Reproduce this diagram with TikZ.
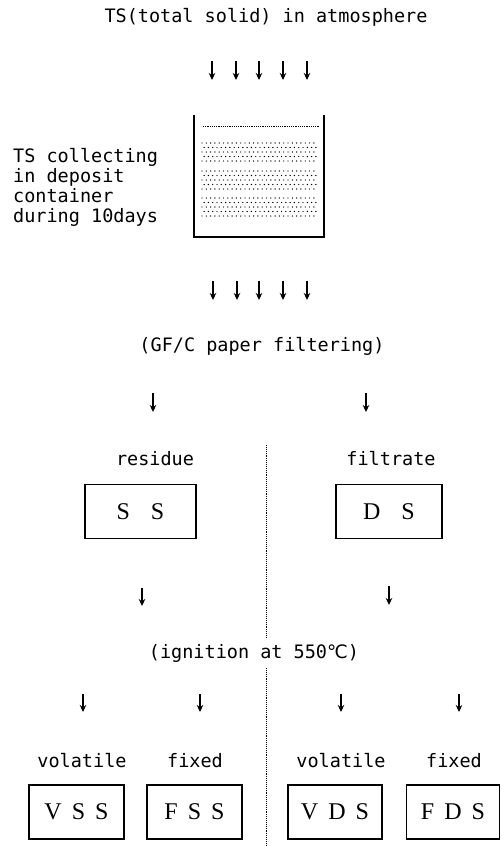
\documentclass[tikz,border=0pt]{standalone}
\usepackage{fontspec}
\newfontfamily\monof{DejaVu Sans Mono}
\newfontfamily\symf{DejaVu Sans}
\newfontfamily\boxf{Liberation Serif}
\usetikzlibrary{arrows.meta}
\begin{document}
\begin{tikzpicture}[x=1pt,y=-1pt,
  lbl/.style={font=\monof\fontsize{18.5}{20}\selectfont, inner sep=0pt},
  arr/.style={line width=1.4pt,-{Stealth[length=7pt,width=6.5pt]}},
  resbox/.style={draw, line width=1.1pt, minimum height=54pt, inner sep=0pt,
    font=\boxf\fontsize{24}{26}\selectfont},
  divider/.style={densely dotted, line width=0.9pt},
  wall/.style={line width=2pt},
]
\useasboundingbox (0,0) rectangle (501,846);

% title
\node[lbl, anchor=base] (title) at (266,22) {TS(total solid) in atmosphere};

% first row of arrows
\foreach \i/\x in {1/212,2/236,3/259,4/283,5/307}{
  \coordinate (ta\i) at (\x,61);
  \coordinate (tb\i) at (\x,80);
  \draw[arr] (ta\i) -- (tb\i);
}

% container
\coordinate (c1) at (194,115);
\coordinate (c2) at (194,237);
\coordinate (c3) at (324,237);
\coordinate (c4) at (324,115);
\draw[wall] (c1) -- (c2) -- (c3) -- (c4);
\coordinate (s1) at (203,126);
\coordinate (s2) at (319,126);
\draw[line width=0.6pt, dash pattern=on 1.2pt off 1pt] (s1) -- (s2);
\foreach \top in {143,171,198}{
  \foreach \r in {0,1,2,3,4}{
    \foreach \c in {0,...,26}{
      \pgfmathsetmacro{\xx}{202+\c*4.3+mod(\r,2)*2.1}
      \pgfmathsetmacro{\yy}{\top+\r*4.5}
      \fill (\xx,\yy) circle (0.7pt);
    }
  }
}

% left description
\node[lbl, anchor=base west] (d1) at (13,162) {TS collecting};
\node[lbl, anchor=base west] (d2) at (13,182) {in deposit};
\node[lbl, anchor=base west] (d3) at (13,202) {container};
\node[lbl, anchor=base west] (d4) at (13,222) {during 10days};

% second row of arrows
\foreach \i/\x in {1/213,2/237,3/259,4/283,5/307}{
  \coordinate (ua\i) at (\x,281);
  \coordinate (ub\i) at (\x,300);
  \draw[arr] (ua\i) -- (ub\i);
}

\node[lbl, anchor=base] (filt) at (262,351) {(GF/C paper filtering)};

\coordinate (fa1) at (153,393); \coordinate (fb1) at (153,412);
\coordinate (fa2) at (366,393); \coordinate (fb2) at (366,412);
\draw[arr] (fa1) -- (fb1);
\draw[arr] (fa2) -- (fb2);

\node[lbl, anchor=base] (res) at (155,465) {residue};
\node[lbl, anchor=base] (fil) at (391,465) {filtrate};

\node[resbox, minimum width=111pt] (ss) at (140.5,511.5) {S\hspace{21pt}S};
\node[resbox, minimum width=106pt] (ds) at (389,511.5) {D\hspace{21pt}S};

\coordinate (ga1) at (142,588); \coordinate (gb1) at (142,606);
\coordinate (ga2) at (389,586); \coordinate (gb2) at (389,605);
\draw[arr] (ga1) -- (gb1);
\draw[arr] (ga2) -- (gb2);

\node[lbl, anchor=base] (ign) at (254,658) {(ignition at 550{\symf ℃})};

% divider
\coordinate (v1) at (266,445);
\coordinate (v2) at (266,638);
\coordinate (v3) at (266,668);
\coordinate (v4) at (266,846);
\draw[divider] (v1) -- (v2);
\draw[divider] (v3) -- (v4);

% bottom arrows
\foreach \i/\x in {1/83,2/200,3/341,4/459}{
  \coordinate (ha\i) at (\x,694);
  \coordinate (hb\i) at (\x,712);
  \draw[arr] (ha\i) -- (hb\i);
}

\node[lbl, anchor=base] (vol1) at (82,767) {volatile};
\node[lbl, anchor=base] (fix1) at (195,767) {fixed};
\node[lbl, anchor=base] (vol2) at (341,767) {volatile};
\node[lbl, anchor=base] (fix2) at (454,767) {fixed};

\node[resbox, minimum width=95pt] (vss) at (76.5,812) {V\hspace{10pt}S\hspace{10pt}S};
\node[resbox, minimum width=95pt] (fss) at (194.5,812) {F\hspace{10pt}S\hspace{10pt}S};
\node[resbox, minimum width=94pt] (vds) at (335,812) {V\hspace{10pt}D\hspace{10pt}S};
\node[resbox, minimum width=93pt] (fds) at (453,812) {F\hspace{10pt}D\hspace{10pt}S};
\end{tikzpicture}
\end{document}
